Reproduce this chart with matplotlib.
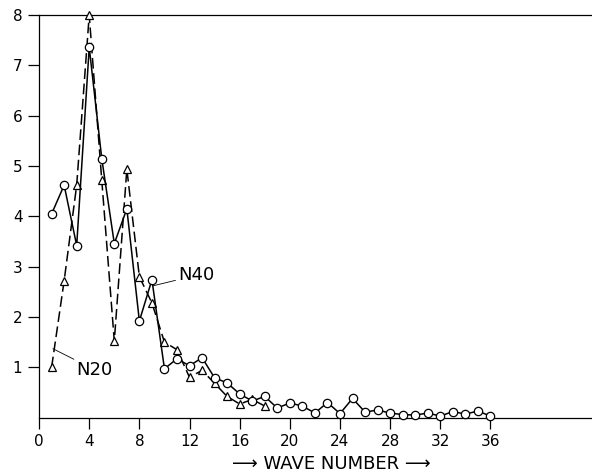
import matplotlib
matplotlib.use('Agg')
import matplotlib.pyplot as plt

# wave numbers and spectral values
wave_n40 = list(range(1, 37))
n40 = [4.05, 4.62, 3.42, 7.36, 5.15, 3.46, 4.15, 1.92, 2.74, 0.97,
       1.17, 1.03, 1.19, 0.79, 0.69, 0.47, 0.33, 0.42, 0.19, 0.29,
       0.23, 0.09, 0.30, 0.08, 0.38, 0.11, 0.15, 0.09, 0.06, 0.05,
       0.09, 0.03, 0.12, 0.07, 0.13, 0.03]

wave_n20 = list(range(1, 19))
n20 = [1.0, 2.72, 4.62, 8.0, 4.72, 1.52, 4.94, 2.80, 2.28, 1.50,
       1.35, 0.80, 0.94, 0.68, 0.42, 0.27, 0.36, 0.23]

xticks = list(range(0, 37, 4))
yticks = list(range(1, 9))


def render():
    fig = plt.figure(figsize=(5.92, 4.74), dpi=100)
    ax = fig.add_axes([0.066, 0.119, 0.934, 0.849])

    ax.plot(wave_n20, n20, color='black', lw=1.1, linestyle=(0, (7, 3)),
            marker='^', markersize=5.5, markerfacecolor='white',
            markeredgecolor='black', markeredgewidth=0.9, clip_on=False, zorder=3)
    ax.plot(wave_n40, n40, color='black', lw=1.1,
            marker='o', markersize=6, markerfacecolor='white',
            markeredgecolor='black', markeredgewidth=0.9, clip_on=False, zorder=4)

    ax.set_xlim(0, 44.1)
    ax.set_ylim(0, 8)
    ax.set_xticks(xticks)
    ax.set_yticks(yticks)
    ax.tick_params(direction='out', length=8, width=0.9, labelsize=11, pad=4)
    ax.spines['right'].set_visible(False)
    for s in ('left', 'top', 'bottom'):
        ax.spines[s].set_linewidth(0.9)

    ax.set_xlabel('\u27f6 WAVE NUMBER \u27f6', fontsize=13)
    ax.xaxis.set_label_coords(0.528, -0.093)

    ax.annotate('N40', xy=(9.1, 2.62), xytext=(11.1, 2.83), fontsize=13,
                ha='left', va='center',
                arrowprops=dict(arrowstyle='-', lw=0.6, color='black',
                                shrinkA=0, shrinkB=0))
    ax.annotate('N20', xy=(1.1, 1.37), xytext=(3.0, 0.95), fontsize=13,
                ha='left', va='center',
                arrowprops=dict(arrowstyle='-', lw=0.6, color='black',
                                shrinkA=0, shrinkB=0))

    fig.savefig('out.png', dpi=100)


if __name__ == '__main__':
    render()
